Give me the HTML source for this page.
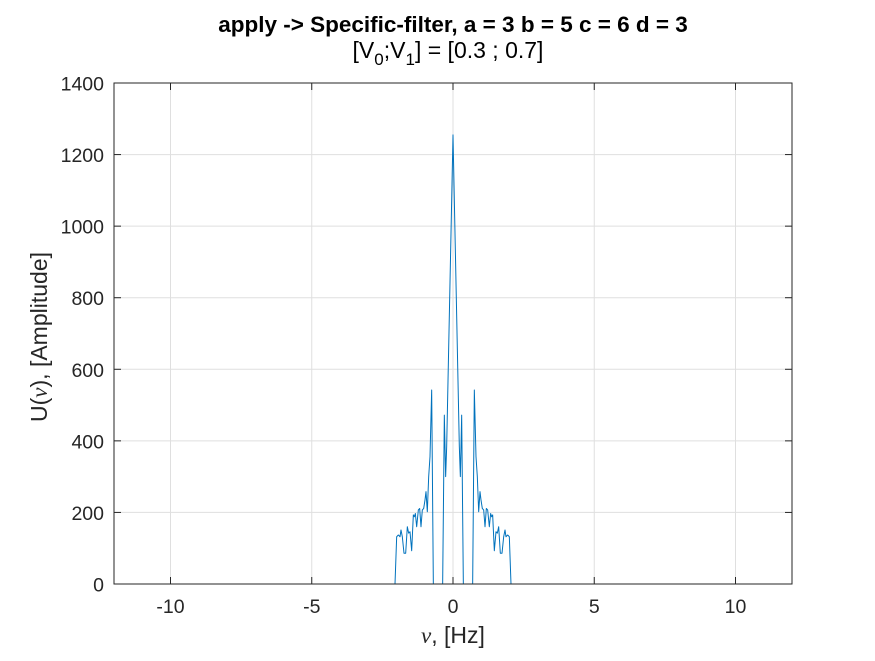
<!DOCTYPE html>
<html><head><meta charset="utf-8"><style>
body{margin:0;background:#fff;}
svg text{font-family:"Liberation Sans",Arial,sans-serif;fill:#262626;}
</style></head><body>
<svg id="chart" width="875" height="656" xmlns="http://www.w3.org/2000/svg">
<rect width="875" height="656" fill="#fff"/>
<text x="453" y="32" text-anchor="middle" font-size="22.5" font-weight="bold" style="fill:#000">apply -&gt; Specific-filter, a = 3 b = 5 c = 6 d = 3</text>
<text x="448" y="58" text-anchor="middle" font-size="23" style="fill:#000">[V<tspan font-size="17" dy="7">0</tspan><tspan dy="-7">;V</tspan><tspan font-size="17" dy="7">1</tspan><tspan dy="-7">] = [0.3 ; 0.7]</tspan></text>
<rect x="114" y="83" width="678" height="501" fill="#fff"/>
<g id="grid"></g><g id="ticks"></g>
<path id="series" fill="none" stroke="#0072BD" stroke-width="1" stroke-linejoin="round"/>
<rect x="114" y="83" width="678" height="501" fill="none" stroke="#262626" stroke-width="1"/>
<text transform="translate(47,337) rotate(-90)" text-anchor="middle" font-size="23">U(<tspan font-family="Liberation Serif" font-style="italic">ν</tspan>), [Amplitude]</text>
<text x="453" y="643" text-anchor="middle" font-size="23"><tspan font-family="Liberation Serif" font-style="italic">ν</tspan>, [Hz]</text>
</svg>
<script>
const freqs=[-12,-2.053,-1.994,-1.935,-1.876,-1.841,-1.794,-1.735,-1.675,-1.617,-1.569,-1.522,-1.463,-1.404,-1.369,-1.333,-1.286,-1.227,-1.180,-1.133,-1.086,-1.038,-0.991,-0.956,-0.909,-0.861,-0.814,-0.755,-0.696,-0.366,-0.307,-0.260,-0.224,0,0.224,0.260,0.307,0.366,0.696,0.755,0.814,0.861,0.909,0.956,0.991,1.038,1.086,1.133,1.180,1.227,1.286,1.333,1.369,1.404,1.463,1.522,1.569,1.617,1.675,1.735,1.794,1.841,1.876,1.935,1.994,2.053,12];
const amps=[0,0,132,137,132,151,132,86,86,160,142,146,93,193,188,197,160,207,211,160,207,211,235,258,202,300,356,542,0,0,472,300,384,1255,384,300,472,0,0,542,356,300,202,258,235,211,207,160,211,207,160,197,188,193,93,146,142,160,86,86,132,151,132,137,132,0,0];
const xTicks=[-10,-5,0,5,10];
const yTicks=[0,200,400,600,800,1000,1200,1400];
const X=v=>453+v*28.25, Y=v=>584-v*(501/1400);
const NS="http://www.w3.org/2000/svg";
const grid=document.getElementById('grid'), tk=document.getElementById('ticks');
function mk(tag,attrs,parent){const e=document.createElementNS(NS,tag);for(const k in attrs)e.setAttribute(k,attrs[k]);parent.appendChild(e);return e;}
xTicks.forEach(t=>{
 const g=mk('line',{x1:X(t),x2:X(t),y1:83,y2:584,stroke:'#dfdfdf','stroke-width':1},grid);
 
 
 mk('line',{x1:X(t),x2:X(t),y1:584,y2:577,stroke:'#262626'},tk);
 mk('line',{x1:X(t),x2:X(t),y1:83,y2:90,stroke:'#262626'},tk);
 const l=mk('text',{x:X(t),y:613,'text-anchor':'middle','font-size':19.5},tk);
 
 
 l.textContent=t;
});
yTicks.forEach(t=>{
 const g=mk('line',{x1:114,x2:792,y1:Y(t),y2:Y(t),stroke:'#dfdfdf','stroke-width':1},grid);
 
 
 mk('line',{x1:114,x2:121,y1:Y(t),y2:Y(t),stroke:'#262626'},tk);
 mk('line',{x1:792,x2:785,y1:Y(t),y2:Y(t),stroke:'#262626'},tk);
 const l=mk('text',{x:104,y:Y(t)+7.5,'text-anchor':'end','font-size':19.5},tk);
 
 
 l.textContent=t;
});
document.getElementById('series').setAttribute('d',freqs.map((f,i)=>(i?'L':'M')+X(f).toFixed(2)+','+Y(amps[i]).toFixed(2)).join(''));
</script>
</body></html>
